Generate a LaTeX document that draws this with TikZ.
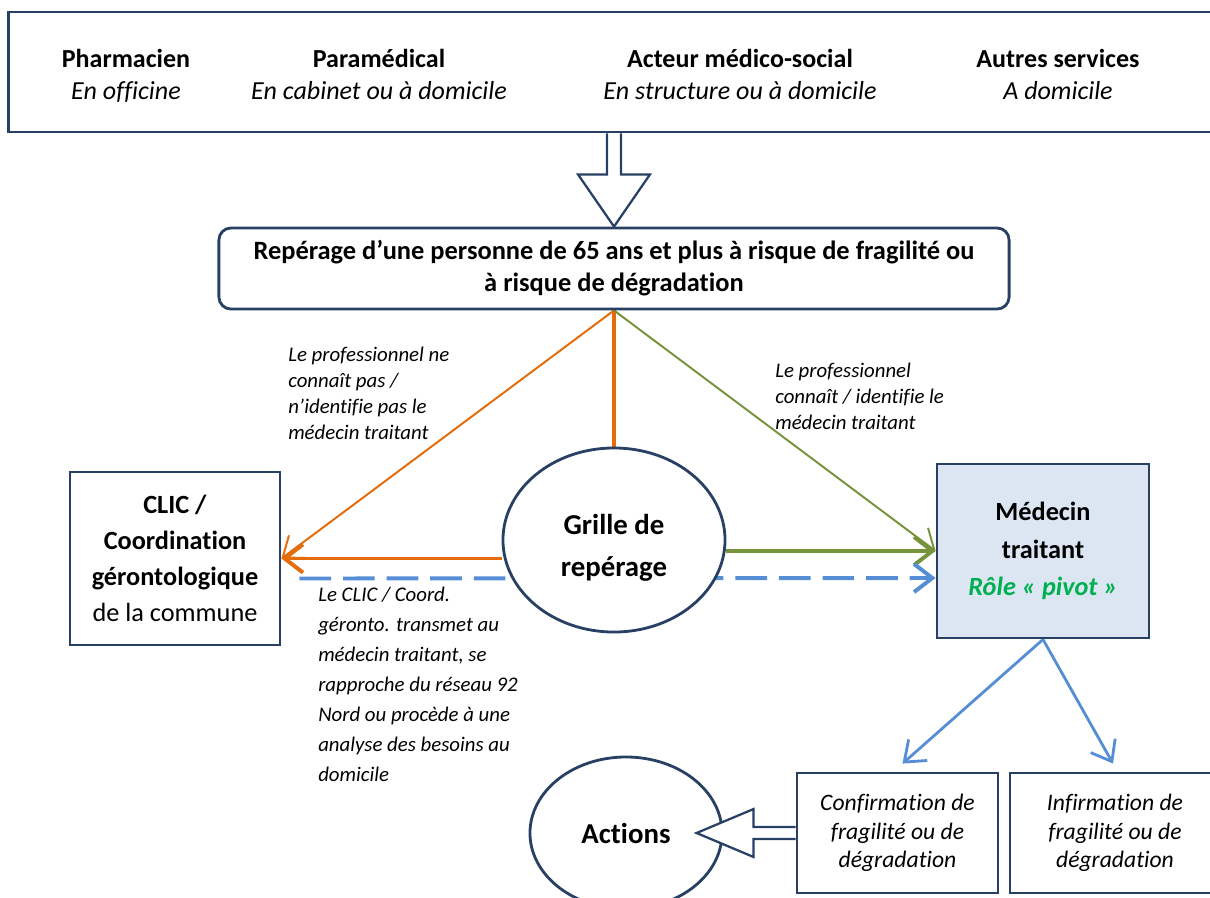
\documentclass[tikz,border=0pt]{standalone}
\usepackage{fontspec}
\setmainfont{Carlito}[Ligatures=NoCommon]
\usetikzlibrary{arrows.meta,calc,shapes.geometric}
\pgfdeclarelayer{background}
\pgfsetlayers{background,main}
\definecolor{navy}{RGB}{40,64,100}
\definecolor{orangeln}{RGB}{228,108,10}
\definecolor{greenln}{RGB}{119,147,60}
\definecolor{blueln}{RGB}{85,142,213}
\definecolor{pivot}{RGB}{0,176,80}
\definecolor{docfill}{RGB}{220,230,242}
\tikzset{box/.style={draw=navy, line width=2pt, fill=white, align=center, inner sep=0pt},
  oval/.style={box, ellipse},
  barb/.style={-{Straight Barb[length=13pt,width=20pt]}},
  hollow/.style={draw=navy, line width=1.6pt, fill=white, line join=miter},
  source/.style={font=\fontsize{18.5}{22.8}\selectfont, align=center, anchor=north},
  note/.style={font=\fontsize{14.8}{18.5}\selectfont\itshape, align=left, inner sep=0pt, anchor=north west}}

\begin{document}
\begin{tikzpicture}[x=0.025cm,y=-0.025cm]
  \useasboundingbox (0,0) rectangle (1210,897);

  % who does the screening
  \node [box, minimum width=30.25cm, minimum height=3cm] (sources) at (614,72) {};
  \node [source] (pharma) at (126,44) {\textbf{Pharmacien\vphantom{é}}\\\textit{En officine}};
  \node [source] (paramed) at (379,44) {\textbf{Paramédical}\\\textit{En cabinet ou à domicile}};
  \node [source] (medsoc) at (740,44) {\textbf{Acteur médico-social}\\\textit{En structure ou à domicile}};
  \node [source] (others) at (1058,44) {\textbf{Autres services\vphantom{é}}\\\textit{A domicile}};

  \node [box, rounded corners=0.3cm, minimum width=19.75cm, minimum height=2.025cm,
         font=\bfseries\fontsize{18.8}{22.8}\selectfont] (repere) at (614,268.5)
        {Repérage d’une personne de 65 ans et plus à risque de fragilité ou\\à risque de dégradation};
  \draw [hollow] ($(sources.south)+(-7,0)$) -- ++(0,41) -- ++(-29,0) -- (repere.north)
        -- ($(sources.south)+(36,41)$) -- ++(-29,0) -- ($(sources.south)+(7,0)$);

  % middle row
  \node [box, minimum width=5.25cm, minimum height=4.325cm, font=\fontsize{18.7}{25.6}\selectfont] (clic) at (175,558.5)
        {\textbf{CLIC /}\\\textbf{Coordination}\\\textbf{gérontologique}\\de la commune};
  \node [oval, minimum width=5.55cm, minimum height=4.6cm] (grille) at (614,540) {};
  \node [font=\bfseries\fontsize{20.5}{29.5}\selectfont, align=center] (grilletxt) at (614,548) {Grille de\\repérage};
  \node [box, fill=docfill, minimum width=5.3cm, minimum height=4.35cm, font=\bfseries\fontsize{18.7}{26.7}\selectfont] (doctor) at (1043,551)
        {Médecin\\traitant\\\textcolor{pivot}{\itshape Rôle « pivot »}};

  % bottom row
  \node [box, minimum width=5.025cm, minimum height=3cm, font=\itshape\fontsize{16.8}{20.3}\selectfont] (confirm) at (897.5,833)
        {Confirmation de\\fragilité ou de\\dégradation};
  \node [box, minimum width=5.25cm, minimum height=3cm, font=\itshape\fontsize{16.8}{20.3}\selectfont] (infirm) at (1115,833)
        {Infirmation de\\fragilité ou de\\dégradation};
  \node [oval, minimum width=4.8cm, minimum height=3.8cm, font=\bfseries\fontsize{20.5}{25}\selectfont] (actions) at (626,833) {Actions};
  \draw [hollow] ($(confirm.west)+(0,-6)$) -- ++(-42,0) -- ++(0,-18) -- ++(-57,24) -- ++(57,24) -- ++(0,-18)
        -- ($(confirm.west)+(0,6)$);

  % connectors
  \begin{pgfonlayer}{background}
    \draw [orangeln, line width=1.4pt, barb] (repere.south) -- (clic.east);
    \draw [orangeln, line width=2.8pt] (repere.south) -- (grille.north);
    \draw [orangeln, line width=2.8pt, barb] (grille.west |- clic.east) -- (clic.east);
    \draw [greenln, line width=1.4pt, barb] (repere.south) -- (doctor.west);
    \draw [greenln, line width=2.8pt, barb] (grille.east |- doctor.west) -- (doctor.west);
    \draw [blueln, line width=2.8pt, dash pattern=on 22.5pt off 8.5pt, barb] ($(clic.east)+(18,20)$) -- ($(doctor.west)+(0,27)$);
    \draw [blueln, line width=2pt, barb] (doctor.south) -- ($(confirm.north)+(5,-8)$);
    \draw [blueln, line width=2pt, barb] (doctor.south) -- ($(infirm.north)+(-2,-8)$);
  \end{pgfonlayer}

  \node [note] (unknown) at (288,347) {Le professionnel ne\\connaît pas /\\n’identifie pas le\\médecin traitant};
  \node [note] (known) at (775,363) {Le professionnel\\connaît / identifie le\\médecin traitant};
  \node [note, font=\fontsize{14.8}{21.3}\selectfont\itshape] (transmit) at (318,587)
        {Le CLIC / Coord.\\géronto. transmet au\\médecin traitant, se\\rapproche du réseau 92\\Nord ou procède à une\\analyse des besoins au\\domicile};
\end{tikzpicture}
\end{document}
